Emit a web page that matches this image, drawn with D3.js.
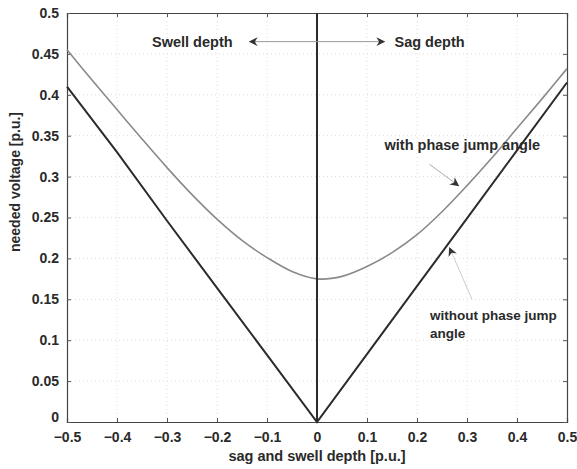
<!DOCTYPE html>
<html>
<head>
<meta charset="utf-8">
<script src="https://cdn.jsdelivr.net/npm/d3@7"></script>
<style>
  body { margin: 0; background: #fff; }
  text { font-family: "Liberation Sans", Arial, sans-serif; font-weight: bold; fill: #2a2a2a; }
</style>
</head>
<body>
<div id="chart"></div>
<script>
// values
var depthWith = [-0.5, -0.45, -0.4, -0.35, -0.3, -0.25, -0.2, -0.15, -0.1, -0.05, 0, 0.05, 0.1, 0.15, 0.2, 0.25, 0.3, 0.35, 0.4, 0.45, 0.5];
var voltWith = [0.455, 0.418, 0.382, 0.346, 0.311, 0.278, 0.248, 0.222, 0.201, 0.184, 0.175, 0.178, 0.19, 0.207, 0.229, 0.257, 0.289, 0.323, 0.359, 0.395, 0.432];
var depthWithout = [-0.5, -0.4, -0.3, -0.2, -0.1, 0, 0.1, 0.2, 0.3, 0.4, 0.5];
var voltWithout = [0.41, 0.33, 0.246, 0.164, 0.082, 0, 0.083, 0.166, 0.249, 0.332, 0.415];
var xTicks = [-0.5, -0.4, -0.3, -0.2, -0.1, 0, 0.1, 0.2, 0.3, 0.4, 0.5];
var yTicks = [0, 0.05, 0.1, 0.15, 0.2, 0.25, 0.3, 0.35, 0.4, 0.45, 0.5];

var W = 577, H = 469;
var margin = {top: 13, right: 10, bottom: 47, left: 67};
var width = W - margin.left - margin.right;
var height = H - margin.top - margin.bottom;

var svg = d3.select("#chart").append("svg")
    .attr("width", W)
    .attr("height", H);

var defs = svg.append("defs");
defs.append("marker")
    .attr("id", "head")
    .attr("viewBox", "0 0 10 10")
    .attr("refX", 9).attr("refY", 5)
    .attr("markerWidth", 9).attr("markerHeight", 9)
    .attr("orient", "auto-start-reverse")
    .append("path")
    .attr("d", "M0,0 L10,5 L0,10 L3,5 Z")
    .attr("fill", "#333");

var g = svg.append("g")
    .attr("transform", "translate(" + margin.left + "," + margin.top + ")");

var x = d3.scaleLinear().domain([-0.5, 0.5]).range([0, width]);
var y = d3.scaleLinear().domain([0, 0.5]).range([height, 0]);

// faint dotted grid
g.append("g").selectAll("line")
    .data(xTicks.slice(1, -1))
    .enter().append("line")
    .attr("x1", d => x(d)).attr("x2", d => x(d))
    .attr("y1", 0).attr("y2", height)
    .attr("stroke", "#ddd").attr("stroke-dasharray", "1,3");
g.append("g").selectAll("line")
    .data(yTicks.slice(1, -1))
    .enter().append("line")
    .attr("y1", d => y(d)).attr("y2", d => y(d))
    .attr("x1", 0).attr("x2", width)
    .attr("stroke", "#ddd").attr("stroke-dasharray", "1,3");

// axes, ticks pointing inward like matlab
var xAxis = g.append("g").attr("transform", "translate(0," + height + ")")
    .call(d3.axisBottom(x).tickValues(xTicks).tickSize(-4).tickPadding(10).tickFormat(d3.format("")));
var xTop = g.append("g")
    .call(d3.axisTop(x).tickValues(xTicks).tickSize(-4).tickFormat(""));
var yAxis = g.append("g")
    .call(d3.axisLeft(y).tickValues(yTicks).tickSize(-4).tickPadding(8).tickFormat(d3.format("")));
var yRight = g.append("g").attr("transform", "translate(" + width + ",0)")
    .call(d3.axisRight(y).tickValues(yTicks).tickSize(-4).tickFormat(""));

[xAxis, xTop, yAxis, yRight].forEach(function(a) {
    a.attr("font-family", null).attr("font-size", null);
    a.selectAll("path").attr("stroke", "#444").attr("stroke-width", 1.2);
    a.selectAll("line").attr("stroke", "#555");
    a.selectAll("text").style("font-size", "14px").style("font-weight", "bold").attr("fill", "#2a2a2a");
});
// lift the "0" on the y axis a little so it clears "-0.5"
yAxis.selectAll(".tick text").filter(d => d === 0).attr("dy", "-0.05em");

// curves
var lineWith = d3.line()
    .x((d, i) => x(depthWith[i]))
    .y(d => y(d))
    .curve(d3.curveCatmullRom);
var lineWithout = d3.line()
    .x((d, i) => x(depthWithout[i]))
    .y(d => y(d));

g.append("path")
    .datum(voltWith)
    .attr("d", lineWith)
    .attr("fill", "none")
    .attr("stroke", "#8a8a8a")
    .attr("stroke-width", 1.6);

g.append("path")
    .datum(voltWithout)
    .attr("d", lineWithout)
    .attr("fill", "none")
    .attr("stroke", "#2b2b2b")
    .attr("stroke-width", 2);

// vertical divider at zero
g.append("line")
    .attr("x1", x(0)).attr("x2", x(0))
    .attr("y1", y(0)).attr("y2", y(0.5))
    .attr("stroke", "#2b2b2b")
    .attr("stroke-width", 2);

// swell / sag arrows
g.append("line")
    .attr("x1", x(0)).attr("x2", x(-0.135))
    .attr("y1", y(0.465)).attr("y2", y(0.465))
    .attr("stroke", "#999").attr("stroke-width", 1)
    .attr("marker-end", "url(#head)");
g.append("line")
    .attr("x1", x(0)).attr("x2", x(0.135))
    .attr("y1", y(0.465)).attr("y2", y(0.465))
    .attr("stroke", "#999").attr("stroke-width", 1)
    .attr("marker-end", "url(#head)");

g.append("text")
    .attr("x", x(-0.33)).attr("y", y(0.465) + 5)
    .style("font-size", "14.5px")
    .text("Swell depth");
g.append("text")
    .attr("x", x(0.155)).attr("y", y(0.465) + 5)
    .style("font-size", "14.5px")
    .text("Sag depth");

// curve annotations
g.append("text")
    .attr("x", x(0.135)).attr("y", y(0.333))
    .style("font-size", "14.5px")
    .text("with phase jump angle");
g.append("line")
    .attr("x1", x(0.225)).attr("x2", x(0.283))
    .attr("y1", y(0.315)).attr("y2", y(0.289))
    .attr("stroke", "#aaa").attr("stroke-width", 1)
    .attr("marker-end", "url(#head)");

g.append("text")
    .attr("x", x(0.226)).attr("y", y(0.125))
    .style("font-size", "13.5px")
    .text("without phase jump");
g.append("text")
    .attr("x", x(0.226)).attr("y", y(0.103))
    .style("font-size", "13.5px")
    .text("angle");
g.append("line")
    .attr("x1", x(0.31)).attr("x2", x(0.265))
    .attr("y1", y(0.15)).attr("y2", y(0.213))
    .attr("stroke", "#ccc").attr("stroke-width", 1)
    .attr("marker-end", "url(#head)");

// axis titles
svg.append("text")
    .attr("x", margin.left + width / 2)
    .attr("y", H - 8)
    .attr("text-anchor", "middle")
    .style("font-size", "14.5px")
    .text("sag and swell depth  [p.u.]");
svg.append("text")
    .attr("transform", "translate(20,182) rotate(-90)")
    .attr("text-anchor", "middle")
    .style("font-size", "14px")
    .text("needed voltage [p.u.]");
</script>
</body>
</html>
